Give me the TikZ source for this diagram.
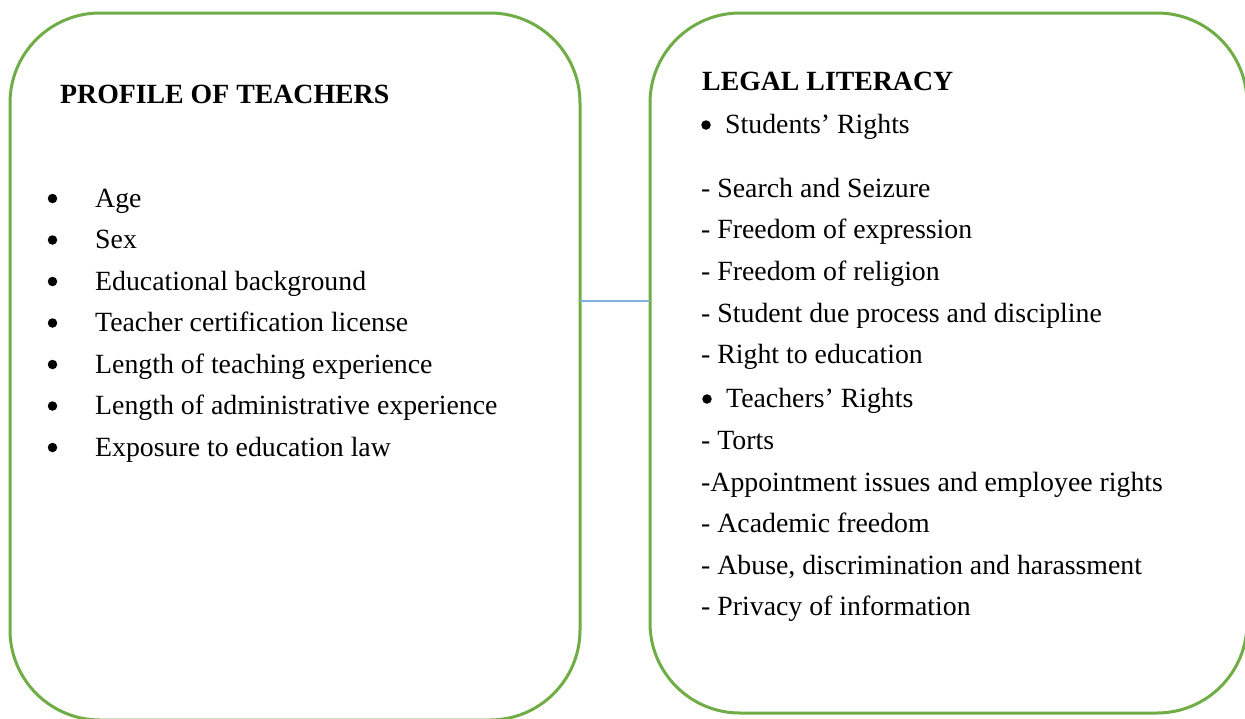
\documentclass[tikz,border=0pt]{standalone}
\usepackage{fontspec}
\setmainfont{Liberation Serif}
\definecolor{boxgreen}{RGB}{112,173,71}
\definecolor{linkblue}{RGB}{132,176,224}
\begin{document}
\begin{tikzpicture}[x=1pt,y=-1pt,
  panel/.style={draw=boxgreen, line width=3pt, rounded corners=90pt, rectangle, inner sep=0pt, outer sep=0pt},
  txt/.style={anchor=base west, inner sep=0pt, font=\fontsize{27.8}{34}\selectfont},
  head/.style={anchor=base west, inner sep=0pt, font=\fontsize{27.8}{34}\selectfont\bfseries},
  dot/.style={circle, fill=black, inner sep=0pt, minimum size=9.5pt}]
\useasboundingbox (0,0) rectangle (1245,718);

% the two panels
\node[panel, minimum width=570pt, minimum height=707pt] (profile) at (295,366.5) {};
\node[panel, minimum width=597pt, minimum height=700pt] (legal) at (948.5,363) {};

% link between the panels
\coordinate (linky) at (0,301);
\draw[linkblue, line width=2pt] (profile.east |- linky) -- (legal.west |- linky);

% left panel: profile of teachers
\node[head] (ptitle) at (60,103) {PROFILE OF TEACHERS};
\node[dot] (b1) at (52.5,198.5) {};
\node[txt] (p1) at (95,207) {Age};
\node[dot] (b2) at (52.5,240) {};
\node[txt] (p2) at (95,248.5) {Sex};
\node[dot] (b3) at (52.5,281.5) {};
\node[txt] (p3) at (95,290) {Educational background};
\node[dot] (b4) at (52.5,323) {};
\node[txt] (p4) at (95,331.5) {Teacher certification license};
\node[dot] (b5) at (52.5,364.5) {};
\node[txt] (p5) at (95,373) {Length of teaching experience};
\node[dot] (b6) at (52.5,406) {};
\node[txt] (p6) at (95,414.5) {Length of administrative experience};
\node[dot] (b7) at (52.5,447.5) {};
\node[txt] (p7) at (95,456) {Exposure to education law};

% right panel: legal literacy
\node[head] (ltitle) at (702,90) {LEGAL LITERACY};
\node[dot] (s0) at (706,125) {};
\node[txt] (sh) at (725,133) {Students’ Rights};
\node[txt] (s1) at (701,197) {- Search and Seizure};
\node[txt] (s2) at (701,238.5) {- Freedom of expression};
\node[txt] (s3) at (701,280) {- Freedom of religion};
\node[txt] (s4) at (701,322) {- Student due process and discipline};
\node[txt] (s5) at (701,363.5) {- Right to education};
\node[dot] (t0) at (707,399) {};
\node[txt] (th) at (726,407) {Teachers’ Rights};
\node[txt] (t1) at (701,449) {- Torts};
\node[txt] (t2) at (701,491) {-Appointment issues and employee rights};
\node[txt] (t3) at (701,532.5) {- Academic freedom};
\node[txt] (t4) at (701,574) {- Abuse, discrimination and harassment};
\node[txt] (t5) at (701,615.5) {- Privacy of information};
\end{tikzpicture}
\end{document}
